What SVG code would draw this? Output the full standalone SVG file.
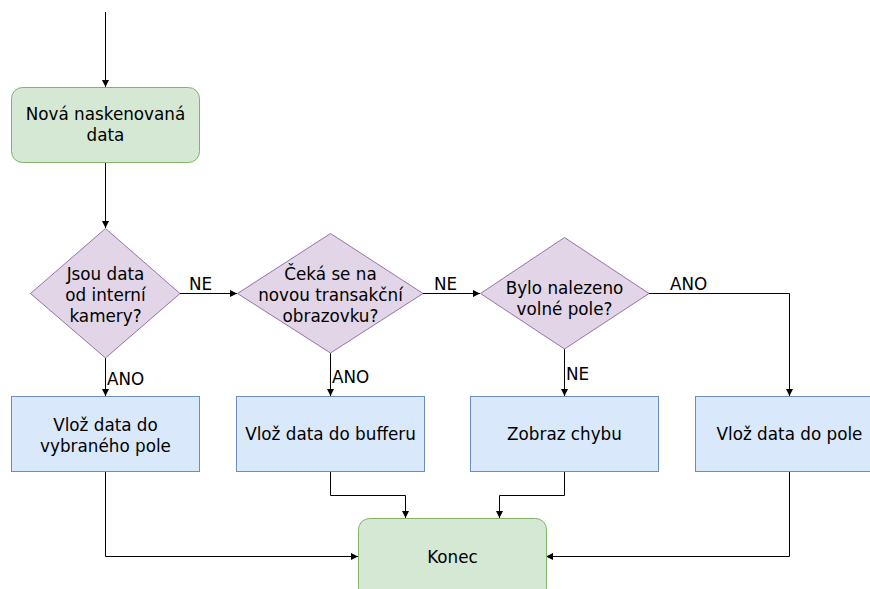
<svg xmlns="http://www.w3.org/2000/svg" width="870" height="589" viewBox="0 0 870 589">
  <defs>
    <marker id="arrow" viewBox="0 0 10 10" refX="10" refY="5" markerWidth="7" markerHeight="7" markerUnits="userSpaceOnUse" orient="auto">
      <path d="M0,0 L10,5 L0,10 Z" fill="#000"/>
    </marker>
    <style>
      text { font-family: "DejaVu Sans", Verdana, sans-serif; font-size: 16.8px; fill: #000; text-anchor: middle; }
      .lbl { text-anchor: start; }
      .terminal { fill: #d5e8d4; stroke: #82b366; stroke-width: 1; }
      .decision { fill: #e1d5e7; stroke: #9673a6; stroke-width: 1; }
      .process { fill: #dae8fc; stroke: #6c8ebf; stroke-width: 1; }
      .edge { fill: none; stroke: #000; stroke-width: 1; marker-end: url(#arrow); }
    </style>
  </defs>

  <rect width="870" height="589" fill="#fff"/>

  <!-- connectors -->
  <g id="connectors">
    <path class="edge" d="M105.5,12 V87"/>
    <path class="edge" d="M105.5,162 V228"/>
    <path class="edge" d="M180,293.5 H237"/>
    <path class="edge" d="M423,293.5 H480"/>
    <path class="edge" d="M649,293.5 H789.5 V396"/>
    <path class="edge" d="M105.5,358 V396"/>
    <path class="edge" d="M330.5,353 V396"/>
    <path class="edge" d="M564.5,349 V396"/>
    <path class="edge" d="M105.5,471 V556.5 H358"/>
    <path class="edge" d="M330.5,471 V495.5 H405.5 V518"/>
    <path class="edge" d="M564.5,471 V495.5 H499.5 V518"/>
    <path class="edge" d="M789.5,471 V556.5 H546"/>
    <text class="lbl" x="189" y="290">NE</text>
    <text class="lbl" x="434" y="290">NE</text>
    <text class="lbl" x="670" y="290">ANO</text>
    <text class="lbl" x="107" y="385">ANO</text>
    <text class="lbl" x="332" y="383">ANO</text>
    <text class="lbl" x="566" y="380">NE</text>
  </g>

  <g id="start">
    <rect class="terminal" x="11.5" y="87.5" width="188" height="75" rx="11"/>
    <text x="105.5" y="120">Nová naskenovaná</text>
    <text x="105.5" y="141">data</text>
  </g>

  <g id="decision-internal-camera">
    <path class="decision" d="M105.5,228.5 L180,293.5 L105.5,358 L30.5,293.5 Z"/>
    <text x="105.5" y="280">Jsou data</text>
    <text x="105.5" y="301">od interní</text>
    <text x="105.5" y="322">kamery?</text>
  </g>

  <g id="decision-transaction-screen">
    <path class="decision" d="M330.5,233.5 L423,293.5 L330.5,353 L237.5,293.5 Z"/>
    <text x="330.5" y="280">Čeká se na</text>
    <text x="330.5" y="301">novou transakční</text>
    <text x="330.5" y="322">obrazovku?</text>
  </g>

  <g id="decision-free-field">
    <path class="decision" d="M564.5,237.5 L649,293.5 L564.5,349 L480.5,293.5 Z"/>
    <text x="564.5" y="294">Bylo nalezeno</text>
    <text x="564.5" y="315">volné pole?</text>
  </g>

  <g id="insert-selected">
    <rect class="process" x="11.5" y="396.5" width="188" height="75"/>
    <text x="105.5" y="431">Vlož data do</text>
    <text x="105.5" y="452">vybraného pole</text>
  </g>

  <g id="insert-buffer">
    <rect class="process" x="236.5" y="396.5" width="188" height="75"/>
    <text x="330.5" y="440">Vlož data do bufferu</text>
  </g>

  <g id="show-error">
    <rect class="process" x="470.5" y="396.5" width="188" height="75"/>
    <text x="564.5" y="440">Zobraz chybu</text>
  </g>

  <g id="insert-field">
    <rect class="process" x="695.5" y="396.5" width="188" height="75"/>
    <text x="789.5" y="440">Vlož data do pole</text>
  </g>

  <g id="end">
    <rect class="terminal" x="358.5" y="518.5" width="188" height="80" rx="11"/>
    <text x="452.5" y="563">Konec</text>
  </g>
</svg>
